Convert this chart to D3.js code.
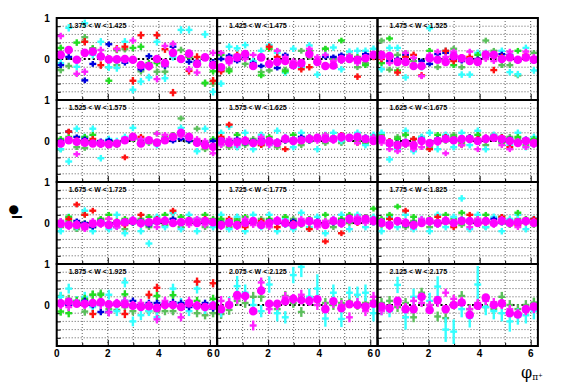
<!DOCTYPE html>
<meta charset="utf-8">
<style>
body { margin: 0; background: #fff; }
svg { display: block; font-family: "Liberation Sans", Arial, Helvetica, sans-serif; }
.grid line { stroke: #333; stroke-width: 0.8; stroke-dasharray: 1,2; }
.zero { stroke: #000; stroke-width: 2; stroke-dasharray: 2,2.5; }
.frame { fill: none; stroke: #000; stroke-width: 2; }
.axis path { display: none; }
.axis line { stroke: #000; stroke-width: 1; }
.lbl { font-size: 10px; font-weight: 700; fill: #000; }
.plabel { font-size: 7px; font-weight: 700; fill: #000; }
</style>
<svg id="chart"></svg>
<script src="https://d3js.org/d3.v7.min.js"></script>
<script>

// W bins, one per pad (3 columns x 4 rows)
const panelLabels = [
  "1.375 < W < 1.425", "1.425 < W < 1.475", "1.475 < W < 1.525",
  "1.525 < W < 1.575", "1.575 < W < 1.625", "1.625 < W < 1.675",
  "1.675 < W < 1.725", "1.725 < W < 1.775", "1.775 < W < 1.825",
  "1.875 < W < 1.925", "2.075 < W < 2.125", "2.125 < W < 2.175"
];
const xTicks = [0, 2, 4, 6];
const yTickLabels = [0, 1];
const nBins = 20;

// magenta full circles
const circleY = [
  [0.10,0.22,-0.02,0.15,0.18,0.06,-0.01,-0.01,0.0,-0.02,-0.15,-0.17,0.0,-0.10,0.15,0.0,0.13,-0.12,0.04,-0.15],
  [-0.2,-0.02,0.04,0.12,-0.17,0.04,-0.12,-0.07,-0.05,-0.15,-0.1,0.12,-0.07,-0.17,-0.16,0.0,0.0,-0.02,0.02,0.1],
  [0.1,0.07,-0.07,-0.07,-0.17,-0.17,0.02,-0.02,-0.07,0.07,0.02,-0.05,-0.07,0.11,0.1,0.0,0.04,-0.02,0.04,-0.02],
  [-0.06,0.02,-0.02,-0.04,-0.06,-0.06,-0.08,-0.06,0.02,0.1,-0.06,0.02,-0.04,0.02,0.1,0.2,0.1,-0.04,-0.1,-0.14],
  [0.0,-0.05,-0.02,0.0,-0.05,-0.02,0.0,-0.05,0.05,0.0,0.02,0.05,0.08,0.05,0.05,0.1,0.08,0.1,0.05,0.0],
  [0.05,-0.05,-0.1,-0.05,-0.1,0.0,-0.05,0.0,0.05,0.02,0.05,0.05,0.0,0.05,0.08,0.05,0.0,-0.05,0.0,-0.05],
  [-0.02,-0.05,-0.05,-0.08,-0.02,0.0,-0.05,0.0,0.02,0.05,0.0,0.02,0.05,0.05,0.0,0.02,0.05,0.0,0.05,0.02],
  [-0.05,0.0,-0.05,0.0,0.05,-0.05,0.0,0.05,0.0,-0.05,0.0,0.05,0.0,-0.05,0.05,0.0,0.1,0.05,0.1,0.05],
  [0.0,-0.05,0.05,0.0,-0.05,0.0,0.05,0.0,0.05,0.0,0.05,0.05,0.0,0.05,0.0,0.05,0.0,0.02,0.05,0.0],
  [0.04,0.08,0.03,0.03,0.05,0.07,0.02,0.03,0.02,-0.02,-0.05,-0.03,-0.07,0.0,0.0,-0.05,0.04,-0.02,-0.05,-0.02],
  [-0.1,0.0,0.24,0.22,-0.15,0.35,0.03,0.03,0.09,0.15,0.12,0.1,0.14,-0.1,0.09,-0.08,0.02,0.0,-0.04,0.03],
  [-0.04,-0.08,0.1,-0.1,-0.1,0.2,-0.12,0.12,-0.1,0.0,0.06,-0.24,-0.02,0.18,0.0,0.04,-0.2,-0.23,-0.1,-0.04]
];

const redY = [
  [null,null,null,0.42,null,-0.15,null,0.25,0.3,-0.53,0.58,null,0.58,0.24,-0.82,null,-0.29,0.05,null,-0.53],
  [-0.3,null,0.1,null,null,null,0.3,0.05,null,-0.1,-0.25,-0.2,null,null,null,null,null,-0.43,null,0.05],
  [0.0,0.05,-0.33,0.05,0.1,-0.4,null,null,0.2,-0.05,null,0.05,-0.05,null,-0.27,0.05,null,null,0.1,null],
  [null,0.23,0.02,null,0.05,null,-0.05,null,-0.4,null,0.1,null,null,0.0,null,null,null,null,null,null],
  [0.1,0.4,null,0.05,null,-0.1,null,-0.05,-0.2,null,0.0,null,0.1,null,null,0.15,null,-0.05,null,null],
  [null,0.0,-0.15,null,0.05,null,-0.2,null,0.1,null,-0.1,null,0.05,null,null,0.1,-0.15,null,0.0,null],
  [null,0.1,0.45,0.2,0.3,null,0.1,null,-0.05,null,0.2,null,0.1,null,0.3,null,0.05,null,0.1,null],
  [null,0.1,null,-0.1,null,0.05,null,-0.1,null,0.0,null,-0.15,null,-0.45,null,-0.25,null,0.0,null,0.1],
  [null,0.1,null,0.3,null,0.0,null,0.15,null,-0.1,null,0.2,null,0.0,null,0.15,null,-0.05,null,0.1],
  [null,null,null,null,-0.22,null,null,null,-0.22,null,null,0.25,0.42,null,null,null,null,0.57,null,0.53],
  [],
  []
];

const greenY = [
  [0.27,null,0.4,0.42,0.25,null,-0.53,0.22,null,0.27,0.3,-0.1,-0.1,null,0.15,null,0.05,null,-0.58,-0.3],
  [0.1,-0.3,null,0.05,null,-0.4,0.25,null,-0.3,null,null,0.2,null,0.25,null,0.45,null,0.05,-0.15,null],
  [-0.1,0.5,-0.28,null,null,-0.2,0.2,null,null,-0.15,0.05,null,0.1,null,null,0.05,null,0.2,null,0.0],
  [0.05,0.1,null,0.1,0.15,null,0.0,-0.05,null,0.05,null,0.0,0.18,null,0.15,0.15,0.0,null,-0.05,0.05],
  [0.05,0.0,0.15,null,0.0,null,0.1,null,0.05,0.15,null,0.1,null,0.15,0.05,null,0.1,null,0.0,0.1],
  [0.1,null,0.05,0.15,null,0.0,null,0.15,null,0.1,0.0,null,0.15,0.05,null,0.0,null,0.1,null,0.05],
  [0.05,0.15,null,0.2,null,0.1,0.2,null,0.1,null,0.05,0.15,null,0.2,null,0.15,0.1,null,0.2,0.1],
  [0.1,null,0.05,0.15,null,0.0,0.1,null,0.15,null,0.05,0.1,null,0.2,null,0.1,0.2,null,0.15,0.35],
  [0.1,0.2,0.4,null,0.15,null,0.1,null,0.2,null,0.25,null,0.1,0.2,null,0.15,null,0.25,0.1,null],
  [-0.16,-0.2,0.1,0.15,0.25,0.25,null,null,0.26,null,null,null,0.22,null,0.24,null,null,0.1,null,0.15],
  [],
  []
];

const blueY = [
  [-0.15,0.05,null,-0.52,-0.12,null,0.36,null,-0.09,null,-0.25,0.07,null,-0.17,0.3,null,-0.07,-0.05,null,-0.07],
  [0.0,0.08,-0.05,0.05,-0.1,-0.17,null,-0.22,0.1,null,-0.15,null,-0.1,0.05,0.05,0.1,null,0.0,0.12,0.08],
  [0.05,-0.05,0.0,0.1,null,-0.05,-0.12,0.12,0.15,0.0,-0.05,0.0,0.0,0.05,null,0.12,0.1,-0.05,0.05,-0.05],
  [0.0,0.23,0.1,0.05,-0.02,0.0,0.02,-0.05,0.0,0.1,0.05,0.0,-0.02,0.05,0.0,0.05,0.0,-0.06,-0.05,0.0],
  [0.05,0.0,0.05,-0.05,0.0,0.05,-0.05,0.0,0.0,0.05,0.1,0.0,0.05,0.1,0.05,0.08,0.1,0.05,0.1,0.05],
  [0.05,-0.1,-0.05,0.0,-0.1,0.05,-0.05,0.05,0.1,0.0,0.05,0.1,0.0,0.05,0.1,0.0,0.05,-0.05,0.05,-0.1],
  [0.0,-0.05,0.05,0.0,-0.1,0.05,0.0,-0.1,0.05,0.0,0.05,-0.05,0.0,0.05,0.1,0.0,0.05,0.1,0.0,0.05],
  [0.0,0.05,-0.05,0.0,0.05,-0.05,0.05,0.0,-0.05,0.05,0.0,0.0,0.05,-0.05,0.0,0.05,0.05,0.1,0.05,0.0],
  [0.05,0.0,0.05,-0.05,0.0,0.05,0.0,-0.05,0.05,0.0,0.1,0.05,0.0,0.05,0.1,0.0,0.05,0.0,0.05,0.1],
  [0.05,0.0,0.05,0.1,0.0,-0.17,-0.17,0.05,0.1,0.1,0.0,0.05,0.05,0.0,0.07,0.05,-0.05,0.0,0.05,-0.08],
  [],
  []
];

const cyanY = [
  [-0.1,0.76,-0.19,0.87,0.1,0.42,-0.2,-0.22,0.42,-0.75,-0.55,-0.45,0.42,-0.47,0.05,0.71,0.71,-0.07,0.6,-0.8],
  [-0.6,0.3,0.26,0.34,-0.05,0.2,0.34,0.15,-0.33,0.25,-0.2,0.33,-0.38,0.1,0.28,-0.25,0.18,0.2,0.2,0.25],
  [-0.25,0.27,0.27,-0.45,null,-0.2,0.75,null,0.2,0.15,-0.38,-0.38,0.15,0.15,null,0.2,-0.32,-0.37,0.27,-0.28],
  [-0.2,-0.5,0.3,0.1,0.3,-0.42,0.05,0.0,0.1,0.32,-0.05,0.0,-0.1,0.05,0.1,0.32,0.05,-0.25,0.3,-0.12],
  [0.2,0.35,-0.15,0.2,-0.2,0.15,-0.1,0.25,0.1,-0.15,0.2,0.1,-0.2,0.15,0.2,0.0,0.1,0.2,-0.1,0.15],
  [0.2,-0.45,-0.2,0.25,-0.25,0.1,0.2,-0.2,0.15,-0.15,0.2,-0.1,0.25,-0.2,0.15,0.1,-0.1,0.2,-0.15,0.1],
  [-0.2,0.15,-0.1,0.3,-0.2,0.05,-0.15,0.2,-0.25,0.1,-0.2,-0.5,0.15,-0.1,0.25,-0.15,0.2,-0.2,0.1,-0.1],
  [0.2,-0.15,0.15,-0.2,0.2,-0.1,0.2,-0.2,0.1,-0.15,0.25,-0.1,0.15,-0.25,0.1,0.2,-0.15,0.2,-0.1,0.15],
  [-0.2,0.15,-0.1,0.2,-0.15,0.1,-0.2,0.2,-0.1,0.15,0.6,-0.15,0.2,-0.1,0.15,-0.2,0.1,0.2,-0.15,0.1],
  [0.2,0.4,0.1,0.2,-0.05,0.0,0.25,-0.15,0.55,-0.4,-0.25,-0.15,-0.3,0.05,0.4,0.05,-0.15,0.4,-0.1,0.05],
  [-0.15,0.05,0.46,0.3,0.0,-0.15,0.5,-0.2,-0.3,0.73,0.93,0.2,0.4,-0.33,0.3,-0.34,0.3,0.25,0.3,-0.2],
  [-0.1,-0.15,0.49,-0.3,0.2,0.15,0.1,0.45,-0.6,-0.65,-0.1,-0.3,0.5,-0.05,-0.15,-0.2,-0.4,-0.28,-0.25,-0.15]
];

const magentaY = [
  [0.56,null,-0.36,-0.31,null,0.22,null,0.24,null,0.45,null,-0.2,-0.49,0.32,0.37,null,-0.25,-0.33,null,0.15],
  [0.15,-0.1,0.05,0.0,0.1,null,-0.1,0.2,0.05,-0.05,-0.1,0.25,0.05,0.1,-0.05,-0.05,0.08,-0.1,0.05,0.1],
  [0.03,-0.1,-0.1,0.15,0.03,-0.42,0.1,0.18,0.05,0.18,0.05,0.18,-0.05,0.0,-0.05,0.02,0.18,0.0,0.18,0.05],
  [-0.05,0.05,-0.32,0.0,-0.05,-0.1,-0.05,-0.05,0.05,0.08,0.05,0.0,0.18,0.15,0.12,0.12,0.1,0.05,0.0,-0.3],
  [-0.1,0.05,-0.1,0.05,-0.05,0.1,-0.1,0.0,0.1,0.05,0.0,0.1,0.0,0.15,0.0,0.05,0.1,-0.05,0.05,0.1],
  [-0.05,-0.2,-0.25,-0.1,-0.2,-0.15,-0.1,-0.05,-0.3,0.0,-0.1,0.05,-0.2,0.1,0.05,-0.1,-0.2,0.0,-0.15,-0.1],
  [0.05,-0.1,0.0,-0.15,0.05,-0.05,0.1,-0.1,0.0,0.1,-0.05,0.05,-0.1,0.1,0.0,0.05,-0.05,0.1,-0.05,0.0],
  [-0.1,0.05,-0.1,0.1,-0.05,0.0,-0.1,0.1,0.05,-0.05,0.1,0.0,-0.1,0.05,0.1,-0.05,0.05,0.15,0.0,0.1],
  [0.05,-0.1,0.0,0.05,-0.1,0.1,0.0,-0.05,0.1,0.0,0.05,-0.1,0.1,0.0,-0.05,0.1,0.05,-0.1,0.0,0.05],
  [0.0,-0.05,0.05,0.0,0.05,0.0,-0.18,0.05,0.1,0.0,0.05,0.0,-0.35,0.1,0.0,-0.3,0.1,0.0,-0.05,0.0],
  [0.1,0.05,0.15,0.2,-0.5,0.55,-0.1,0.0,0.2,0.15,0.25,0.1,0.0,-0.05,0.05,0.0,-0.3,0.05,-0.15,0.2],
  [-0.15,-0.1,0.0,-0.05,0.1,0.05,0.0,0.05,0.3,0.15,0.1,-0.1,0.05,0.1,0.07,0.0,-0.1,-0.2,-0.15,-0.1]
];

const mgreenY = [
  [-0.27,-0.17,null,0.53,0.26,null,-0.2,-0.15,0.24,null,-0.3,null,-0.31,-0.31,null,0.22,0.05,null,-0.6,-0.6],
  [-0.28,-0.25,null,-0.12,null,-0.32,-0.28,0.2,-0.26,null,0.2,0.05,-0.1,0.25,0.0,-0.05,0.1,-0.2,-0.1,null],
  [0.45,-0.26,0.1,0.15,-0.05,null,0.0,-0.2,null,0.25,-0.2,null,-0.1,0.45,0.2,-0.15,-0.15,-0.4,null,0.15],
  [-0.2,0.0,-0.15,-0.17,0.0,-0.1,null,-0.1,null,0.05,-0.08,-0.05,null,0.1,null,0.55,0.1,0.3,-0.2,null],
  [-0.1,-0.15,0.0,-0.1,0.05,-0.1,0.0,-0.15,0.0,0.05,-0.1,0.0,0.05,-0.05,0.1,-0.05,0.05,0.0,-0.05,0.05],
  [0.15,0.0,0.1,-0.1,0.05,0.1,-0.15,0.05,0.0,0.15,-0.05,0.1,0.0,-0.1,0.15,-0.05,0.1,0.05,-0.1,0.0],
  [-0.1,0.05,-0.15,0.0,-0.1,0.1,-0.05,0.05,-0.15,0.0,0.1,-0.1,0.0,-0.05,0.1,-0.1,0.0,0.05,-0.1,0.05],
  [0.05,-0.1,0.1,-0.05,0.0,0.1,-0.1,0.05,0.0,0.1,-0.05,0.1,0.0,0.05,-0.1,0.1,0.0,0.05,0.15,0.1],
  [-0.05,0.1,0.0,-0.1,0.05,0.0,-0.1,0.05,0.0,0.1,-0.05,0.0,0.05,-0.1,0.0,0.05,-0.05,0.1,0.0,-0.05],
  [0.22,0.15,0.05,-0.16,0.25,0.28,-0.1,-0.12,-0.05,-0.15,0.0,-0.15,-0.15,-0.15,-0.15,-0.05,0.05,-0.2,-0.25,-0.2],
  [-0.22,-0.12,0.1,0.05,0.2,0.2,0.0,-0.1,0.22,0.05,-0.17,0.12,0.1,0.05,0.0,0.05,0.08,0.0,0.05,0.1],
  [0.05,0.1,-0.05,0.05,-0.3,0.3,0.0,-0.28,-0.32,0.05,0.22,-0.1,0.0,-0.05,-0.1,0.2,0.0,-0.1,0.0,0.06]
];

// half error bars (same units as the asymmetry); arrays where they vary point by point
const redErr     = [0.09,0.08,0.08,0.07,0.07,0.07,0.07,0.07,0.07,0.1,0,0];
const greenErr   = [0.08,0.07,0.07,0.07,0.07,0.07,0.07,0.07,0.07,0.1,0,0];
const blueErr    = [0.07,0.06,0.06,0.06,0.06,0.06,0.06,0.06,0.06,0.08,0,0];
const magentaErr = [0.08,0.07,0.07,0.07,0.07,0.07,0.07,0.07,0.07,0.1,0.12,0.1];
const mgreenErr  = [0.08,0.07,0.07,0.07,0.07,0.07,0.07,0.07,0.07,0.1,0.12,0.12];
const cyanErr    = [0.09,0.08,0.08,0.08,0.08,0.08,0.08,0.08,0.08,0.12,
  [0.15,0.15,0.25,0.2,0.15,0.15,0.2,0.2,0.15,0.2,0.25,0.2,0.35,0.2,0.2,0.2,0.15,0.2,0.2,0.2],
  [0.15,0.15,0.2,0.3,0.2,0.15,0.2,0.25,0.3,0.3,0.2,0.25,0.45,0.2,0.2,0.2,0.25,0.2,0.2,0.2]];

const series = [
  { y: mgreenY,  err: mgreenErr,  color: "#5cbf5c" },
  { y: cyanY,    err: cyanErr,    color: "#33ffff" },
  { y: greenY,   err: greenErr,   color: "#22dd22" },
  { y: blueY,    err: blueErr,    color: "#0000dd" },
  { y: redY,     err: redErr,     color: "#ff1111" },
  { y: magentaY, err: magentaErr, color: "#ff22ff" }
];

let svg = d3.select("#chart").attr("width", 567).attr("height", 384);

let margin = {left: 56.7, top: 18},
    padW = 160.4, padH = 82;

let x = d3.scaleLinear().domain([0, 2 * Math.PI]).range([0, padW]);
let y = d3.scaleLinear().domain([-1, 1]).range([padH, 0]);
let binW = 2 * Math.PI / nBins;
let phi = i => (i + 0.5) * binW;

panelLabels.forEach((label, p) => {
  let col = p % 3, row = Math.floor(p / 3);
  let g = svg.append("g")
    .attr("transform", "translate(" + (margin.left + col * padW) + "," + (margin.top + row * padH) + ")");

  // dotted grid
  let grid = g.append("g").attr("class", "grid");
  grid.selectAll(".gx").data(d3.range(1, 7)).enter().append("line")
    .attr("x1", d => x(d)).attr("x2", d => x(d)).attr("y1", 0).attr("y2", padH);
  grid.selectAll(".gy").data(d3.range(-0.8, 0.81, 0.2).filter(d => Math.abs(d) > 0.01)).enter().append("line")
    .attr("x1", 0).attr("x2", padW).attr("y1", d => y(d)).attr("y2", d => y(d));

  g.append("line").attr("class", "zero")
    .attr("x1", 0).attr("x2", padW).attr("y1", y(0)).attr("y2", y(0));

  // ticks, pointing inside the pad
  g.append("g").attr("class", "axis")
    .call(d3.axisLeft(y).tickValues(d3.range(-1, 1.01, 0.2)).tickSize(-4).tickFormat(""));
  g.append("g").attr("class", "axis")
    .attr("transform", "translate(0," + padH + ")")
    .call(d3.axisBottom(x).tickValues([0, 2, 4, 6]).tickSize(-6).tickFormat(""));
  g.append("g").attr("class", "axis")
    .attr("transform", "translate(0," + padH + ")")
    .call(d3.axisBottom(x).tickValues([1, 3, 5]).tickSize(-3).tickFormat(""));

  // error crosses
  series.forEach(s => {
    let vals = s.y[p] || [];
    let pts = vals.map((v, i) => ({i: i, v: v, e: Array.isArray(s.err[p]) ? s.err[p][i] : s.err[p]}))
      .filter(d => d.v !== null && d.v !== undefined);
    let cg = g.append("g").attr("stroke", s.color).attr("stroke-width", 2.4);
    cg.selectAll(".h").data(pts).enter().append("line")
      .attr("x1", d => x(phi(d.i) - binW * 0.43)).attr("x2", d => x(phi(d.i) + binW * 0.43))
      .attr("y1", d => y(d.v)).attr("y2", d => y(d.v));
    cg.selectAll(".v").data(pts).enter().append("line")
      .attr("x1", d => x(phi(d.i))).attr("x2", d => x(phi(d.i)))
      .attr("y1", d => y(Math.max(-1, d.v - d.e))).attr("y2", d => y(Math.min(1, d.v + d.e)));
  });

  g.append("g").selectAll("circle").data(circleY[p]).enter().append("circle")
    .attr("cx", (d, i) => x(phi(i))).attr("cy", d => y(d))
    .attr("r", 4.3).attr("fill", "#ff00ff");

  g.append("rect").attr("class", "frame").attr("width", padW).attr("height", padH);

  g.append("text").attr("class", "plabel").attr("x", 12).attr("y", 10).text(label);

  if (col === 0) {
    g.selectAll(".ylab").data(yTickLabels).enter().append("text").attr("class", "lbl")
      .attr("x", -7).attr("y", d => y(d) + 3.5).attr("text-anchor", "end").text(d => d);
  }
  if (row === 3) {
    g.selectAll(".xlab").data(xTicks).enter().append("text").attr("class", "lbl")
      .attr("x", d => x(d)).attr("y", padH + 11).attr("text-anchor", "middle").text(d => d);
  }
});

// axis titles
svg.append("text")
  .attr("transform", "translate(22,219) rotate(-90)")
  .attr("font-size", 14).attr("font-weight", 700)
  .text("I")
  .append("tspan").attr("dy", -5).attr("font-size", 12)
  .attr("font-family", "DejaVu Sans, sans-serif").text("\u25CF");

svg.append("text")
  .attr("x", 521).attr("y", 378)
  .attr("font-size", 16).attr("font-family", "DejaVu Serif, serif")
  .text("\u03C6")
  .append("tspan").attr("dy", 2).attr("font-size", 9).text("\u03C0\u207A");

</script>
